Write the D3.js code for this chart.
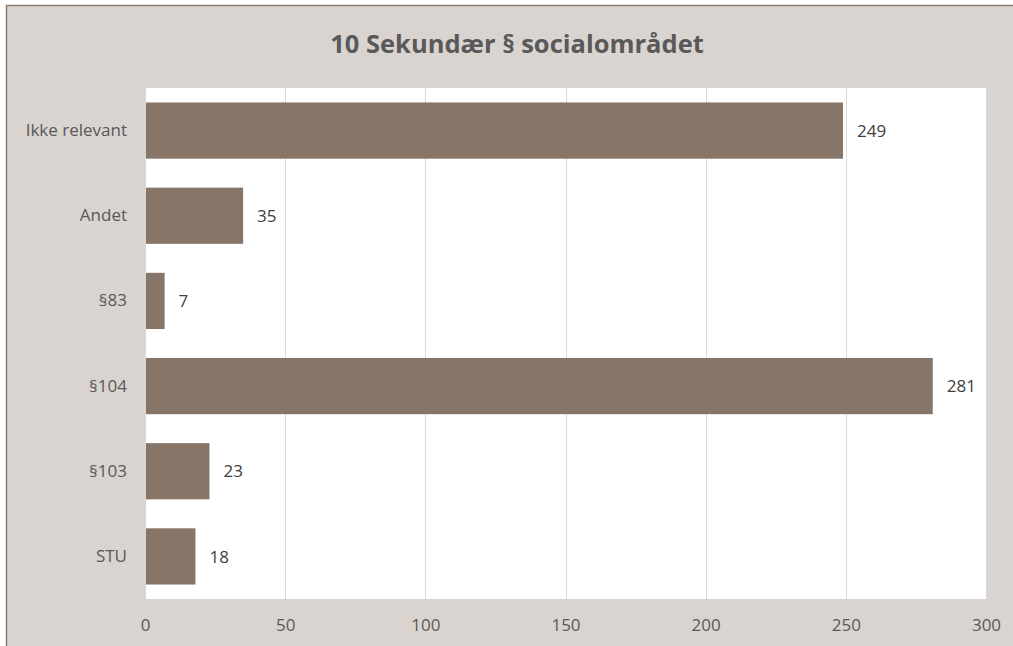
<!DOCTYPE html>
<html>
<head>
<meta charset="utf-8">
<script src="https://cdn.jsdelivr.net/npm/d3@7"></script>
<style>
  body { margin: 0; background: #ffffff; }
  svg { display: block; }
</style>
</head>
<body>
<div id="chart"></div>
<script>
var categories = ["Ikke relevant", "Andet", "§83", "§104", "§103", "STU"];
var values = [249, 35, 7, 281, 23, 18];
var tickValues = [0, 50, 100, 150, 200, 250, 300];
var title = "10 Sekundær § socialområdet";

var width = 1013, height = 646;
var plot = { left: 145, top: 88, right: 986, bottom: 599 };
var font = "'Open Sans', Lato, sans-serif";

var svg = d3.select("#chart").append("svg")
    .attr("width", width)
    .attr("height", height);

// chart frame
svg.append("rect")
    .attr("x", 6.5)
    .attr("y", 5.5)
    .attr("width", width + 20)
    .attr("height", height + 20)
    .attr("fill", "#d9d4d0")
    .attr("stroke", "#8c7b70")
    .attr("stroke-width", 1.5);

svg.append("rect")
    .attr("x", plot.left)
    .attr("y", plot.top)
    .attr("width", plot.right - plot.left)
    .attr("height", plot.bottom - plot.top)
    .attr("fill", "#ffffff");

var xscale = d3.scaleLinear()
    .domain([0, 300])
    .range([plot.left, plot.right]);

var yscale = d3.scaleBand()
    .domain(categories)
    .range([plot.top, plot.bottom])
    .paddingInner(0.34)
    .paddingOuter(0.17);

// gridlines
svg.append("g")
    .selectAll("line")
    .data(tickValues)
    .enter()
    .append("line")
    .attr("x1", d => Math.round(xscale(d)) + 0.5)
    .attr("x2", d => Math.round(xscale(d)) + 0.5)
    .attr("y1", plot.top)
    .attr("y2", plot.bottom)
    .attr("stroke", "#d9d9d9")
    .attr("stroke-width", 1);

// bars
svg.append("g")
    .selectAll("rect")
    .data(values)
    .enter()
    .append("rect")
    .attr("x", xscale(0) + 1)
    .attr("y", (d, i) => yscale(categories[i]))
    .attr("width", d => xscale(d) - xscale(0) - 1)
    .attr("height", yscale.bandwidth())
    .attr("fill", "#877568");

// value labels
svg.append("g")
    .selectAll("text")
    .data(values)
    .enter()
    .append("text")
    .attr("x", d => xscale(d) + 14)
    .attr("y", (d, i) => yscale(categories[i]) + yscale.bandwidth() / 2)
    .attr("dy", "0.36em")
    .style("font-family", font)
    .style("font-size", "17px")
    .attr("fill", "#404040")
    .text(d => d);

// category axis
var yaxis = d3.axisLeft(yscale).tickSize(0).tickPadding(18);
var gy = svg.append("g")
    .attr("transform", "translate(" + plot.left + ",0)")
    .call(yaxis);
gy.select(".domain").remove();
gy.selectAll("text")
    .style("font-family", font)
    .style("font-size", "17px")
    .attr("fill", "#595959");

// value axis
var xaxis = d3.axisBottom(xscale).tickValues(tickValues).tickSize(0).tickPadding(20);
var gx = svg.append("g")
    .attr("transform", "translate(0," + plot.bottom + ")")
    .call(xaxis);
gx.select(".domain").remove();
gx.selectAll("text")
    .style("font-family", font)
    .style("font-size", "17px")
    .attr("fill", "#595959");

svg.append("text")
    .attr("x", 517)
    .attr("y", 53)
    .attr("text-anchor", "middle")
    .style("font-family", font)
    .style("font-weight", "bold")
    .style("font-size", "25.5px")
    .attr("fill", "#595959")
    .text(title);
</script>
</body>
</html>
